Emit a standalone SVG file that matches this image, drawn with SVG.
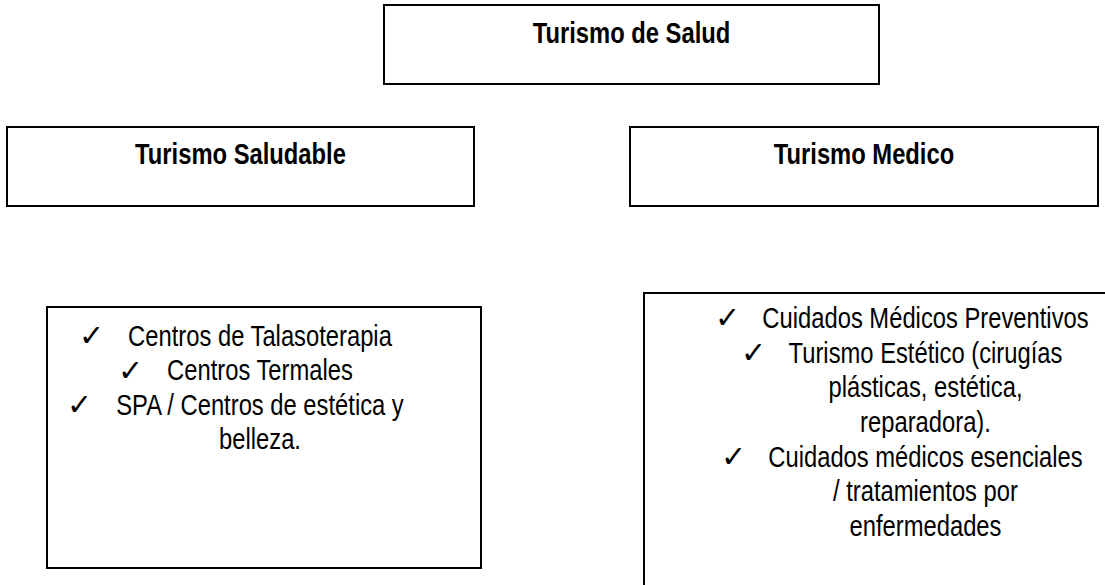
<svg xmlns="http://www.w3.org/2000/svg" width="1105" height="585" viewBox="0 0 1105 585">
<style>
.box{fill:#fff;stroke:#000;stroke-width:2}
.t{font-family:"Liberation Sans","Arial",sans-serif;font-size:29px;fill:#000;text-anchor:middle}
.b{font-weight:bold}
.ck{font-family:"DejaVu Sans",sans-serif;font-size:30px;fill:#000}
</style>
<rect width="1105" height="585" fill="#fff"/>
<g id="node-salud">
<rect class="box" x="384" y="5" width="495" height="79"/>
<g transform="matrix(0.82 0 0 1 113.67 0)"><text class="t b" x="631.5" y="43">Turismo de Salud</text></g>
</g>
<g id="node-saludable">
<rect class="box" x="7" y="127" width="467" height="79"/>
<g transform="matrix(0.82 0 0 1 43.29 0)"><text class="t b" x="240.5" y="164">Turismo Saludable</text></g>
</g>
<g id="node-medico">
<rect class="box" x="630" y="127" width="468" height="79"/>
<g transform="matrix(0.82 0 0 1 155.52 0)"><text class="t b" x="864" y="164">Turismo Medico</text></g>
</g>
<g id="node-saludable-list">
<rect class="box" x="47" y="307" width="434" height="261"/>
<text class="ck" x="79" y="346">✓</text>
<text class="ck" x="118" y="380.5">✓</text>
<text class="ck" x="67" y="415">✓</text>
<g transform="matrix(0.82 0 0 1 46.8 0)">
<text class="t" x="260" y="346">Centros de Talasoterapia</text>
<text class="t" x="260" y="380.5">Centros Termales</text>
<text class="t" x="260" y="415">SPA / Centros de estética y</text>
<text class="t" x="260" y="449.5">belleza.</text>
</g>
</g>
<g id="node-medico-list">
<rect class="box" x="644" y="293" width="462" height="294"/>
<text class="ck" x="715" y="328">✓</text>
<text class="ck" x="741" y="362.7">✓</text>
<text class="ck" x="721" y="466.8">✓</text>
<g transform="matrix(0.82 0 0 1 166.59 0)">
<text class="t" x="925.5" y="328">Cuidados Médicos Preventivos</text>
<text class="t" x="925.5" y="362.7">Turismo Estético (cirugías</text>
<text class="t" x="925.5" y="397.4">plásticas, estética,</text>
<text class="t" x="925.5" y="432.1">reparadora).</text>
<text class="t" x="925.5" y="466.8">Cuidados médicos esenciales</text>
<text class="t" x="925.5" y="501.5">/ tratamientos por</text>
<text class="t" x="925.5" y="536.2">enfermedades</text>
</g>
</g>
<g id="connectors"></g>
</svg>
